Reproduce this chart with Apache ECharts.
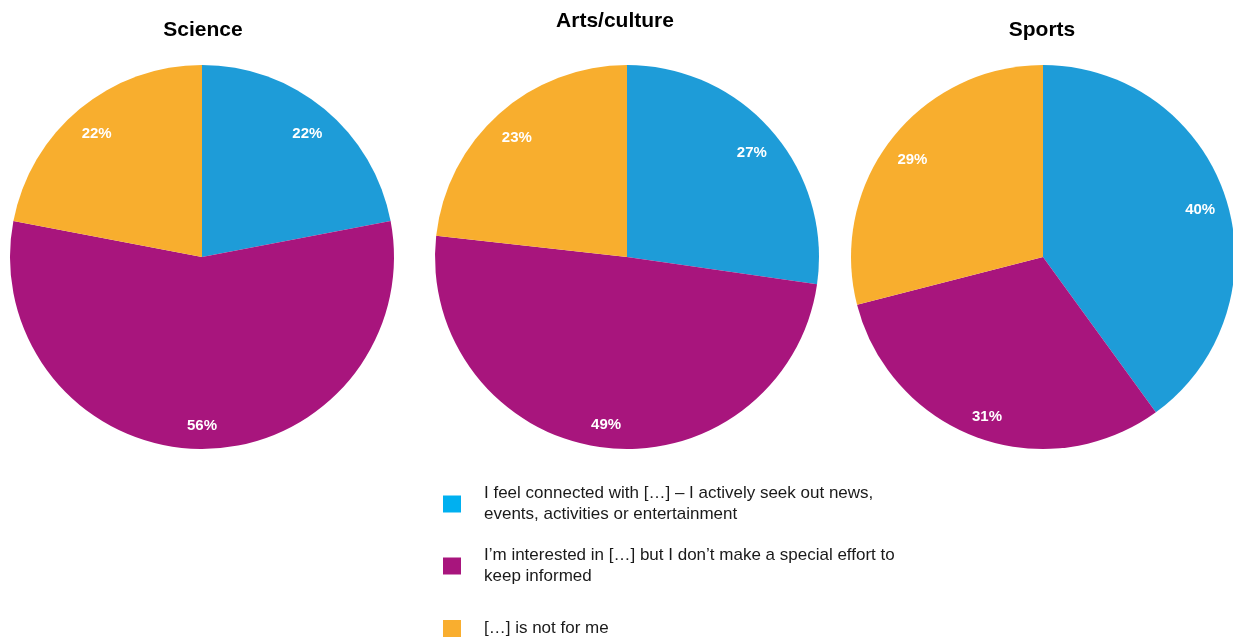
<!DOCTYPE html>
<html><head><meta charset="utf-8">
<script src="https://cdn.jsdelivr.net/npm/echarts@6/dist/echarts.min.js"></script>
<style>html,body{margin:0;padding:0;background:#fff}#c{width:1233px;height:638px}</style>
</head><body><div id="c"></div>
<script>
const titles = ['Science', 'Arts/culture', 'Sports'];
const categories = [
  'I feel connected with […] – I actively seek out news,\nevents, activities or entertainment',
  'I’m interested in […] but I don’t make a special effort to\nkeep informed',
  '[…] is not for me'
];
const science = [22, 56, 22];
const arts = [27, 49, 23];
const sports = [40, 31, 29];

const pieColors = ['#1E9CD8', '#A8157D', '#F8AE2E'];
const legendColors = ['#00B0F0', '#A8157D', '#F9AE2F'];
const font = '"Liberation Sans", Arial, sans-serif';
const R = 192;
const centers = [[202, 257], [627, 257], [1043, 257]];
const titlePos = [[203, 20], [615, 11], [1042, 20]];
const allVals = [science, arts, sports];

const series = [];
allVals.forEach((vals, i) => {
  const data = vals.map((v, k) => ({ name: categories[k], value: v, itemStyle: { color: pieColors[k] } }));
  series.push({
    type: 'pie', center: centers[i], radius: [0, R], startAngle: 90, clockwise: true,
    label: { show: false }, labelLine: { show: false }, selectedMode: false,
    emphasis: { disabled: true }, animation: false, data: data
  });
  series.push({
    type: 'pie', center: centers[i], radius: [R * 0.69, R], startAngle: 90, clockwise: true,
    silent: true, avoidLabelOverlap: false, animation: false,
    itemStyle: { color: 'rgba(0,0,0,0)' },
    label: { show: true, position: 'inside', color: '#fff', fontWeight: 'bold', fontSize: 15, fontFamily: font,
      offset: [0, 4], formatter: p => p.value + '%' },
    labelLine: { show: false }, emphasis: { disabled: true },
    data: vals.map((v, k) => ({ name: categories[k], value: v, itemStyle: { color: 'rgba(0,0,0,0)' } }))
  });
});

const legendTops = [483, 545, 618];
const legends = categories.map((c, k) => ({
  orient: 'vertical', left: 443, top: legendTops[k], padding: 0,
  itemWidth: 18, itemHeight: 17, icon: 'rect', selectedMode: false,
  textStyle: { fontSize: 17, lineHeight: 21, color: '#1a1a1a', fontFamily: font, padding: [0, 0, 0, 18] },
  data: [{ name: c, itemStyle: { color: legendColors[k] } }]
}));

const chart = echarts.init(document.getElementById('c'), null, { renderer: 'canvas' });
chart.setOption({
  backgroundColor: '#fff',
  animation: false,
  title: titles.map((t, i) => ({
    text: t, left: titlePos[i][0], top: titlePos[i][1], textAlign: 'center', padding: 0,
    textStyle: { fontSize: 21, fontWeight: 'bold', color: '#000', fontFamily: font }
  })),
  legend: legends,
  series: series
});
</script></body></html>
